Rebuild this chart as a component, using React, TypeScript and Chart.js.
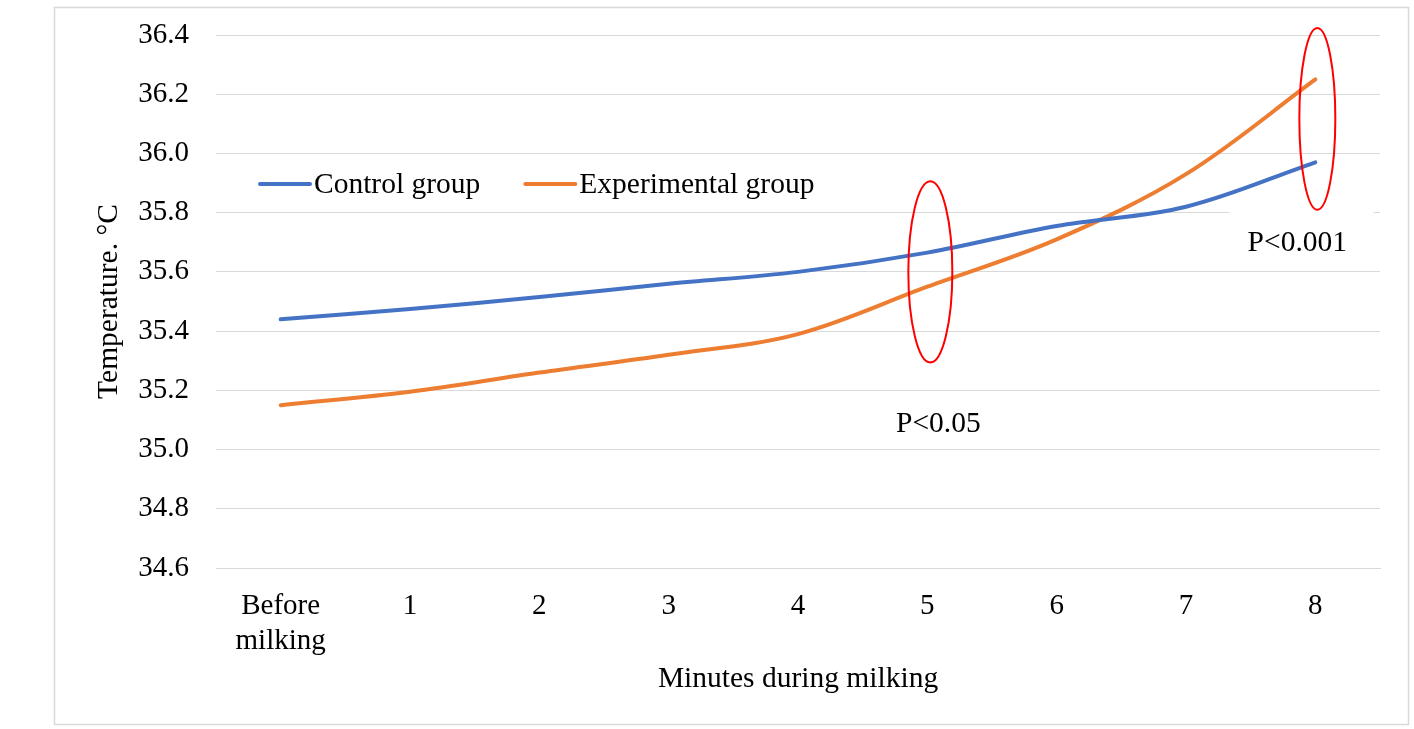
import React, { useEffect, useRef } from "react";
import { Chart, registerables } from "chart.js";

Chart.register(...registerables);

const categories: (string | string[])[] = [["Before", "milking"], "1", "2", "3", "4", "5", "6", "7", "8"];
const controlGroup = [35.44, 35.475, 35.515, 35.56, 35.6, 35.665, 35.755, 35.82, 35.97];
const experimentalGroup = [35.15, 35.195, 35.26, 35.32, 35.39, 35.55, 35.71, 35.93, 36.25];
const yTicks = { min: 34.6, max: 36.4, step: 0.2 };
const seriesNames = ["Control group", "Experimental group"];
const seriesColors = ["#4472C4", "#ED7D31"];
const significance = [
  { index: 5, yCenter: 35.6, yHalf: 0.306, label: "P<0.05", labelValue: 35.086, labelDx: 11, ellipseDx: 3, rx: 22 },
  { index: 8, yCenter: 36.117, yHalf: 0.307, label: "P<0.001", labelValue: 35.698, labelDx: -18, ellipseDx: 2, rx: 18 },
];

const FONT = "'Liberation Serif', 'Times New Roman', serif";

const overlayPlugin = {
  id: "overlay",
  beforeDraw(chart: any) {
    const ctx = chart.ctx;
    ctx.save();
    ctx.fillStyle = "#ffffff";
    ctx.fillRect(0, 0, chart.width, chart.height);
    ctx.strokeStyle = "#d9d9d9";
    ctx.lineWidth = 1.5;
    ctx.strokeRect(54.5, 7.5, 1354, 717);
    ctx.restore();
  },
  beforeDatasetsDraw(chart: any) {
    const ctx = chart.ctx;
    const x = chart.scales.x;
    const y = chart.scales.y;
    const s = significance[1];
    const cx = x.getPixelForValue(s.index) + s.labelDx;
    const cy = y.getPixelForValue(s.labelValue);
    ctx.save();
    ctx.fillStyle = "#ffffff";
    ctx.fillRect(cx - 68, cy - 31, 144, 52);
    ctx.restore();
  },
  afterDatasetsDraw(chart: any) {
    const ctx = chart.ctx;
    const x = chart.scales.x;
    const y = chart.scales.y;
    const area = chart.chartArea;
    ctx.save();
    const ly = y.getPixelForValue(35.897);
    ctx.font = `29.5px ${FONT}`;
    ctx.textBaseline = "middle";
    ctx.textAlign = "left";
    ctx.lineCap = "round";
    let lx = area.left + 44;
    seriesNames.forEach((name, i) => {
      ctx.strokeStyle = seriesColors[i];
      ctx.lineWidth = 4;
      ctx.beginPath();
      ctx.moveTo(lx, ly);
      ctx.lineTo(lx + 50, ly);
      ctx.stroke();
      ctx.fillStyle = "#000000";
      ctx.fillText(name, lx + 54, ly + 1);
      lx += 54 + ctx.measureText(name).width + 45;
    });
    significance.forEach((s) => {
      const cx = x.getPixelForValue(s.index) + s.ellipseDx;
      const cy = y.getPixelForValue(s.yCenter);
      const ry = Math.abs(y.getPixelForValue(s.yCenter + s.yHalf) - cy);
      ctx.strokeStyle = "#ff0000";
      ctx.lineWidth = 2;
      ctx.beginPath();
      ctx.ellipse(cx, cy, s.rx, ry, 0, 0, Math.PI * 2);
      ctx.stroke();
      ctx.fillStyle = "#000000";
      ctx.textAlign = "center";
      ctx.fillText(s.label, x.getPixelForValue(s.index) + s.labelDx, y.getPixelForValue(s.labelValue));
    });
    ctx.restore();
  },
};

export default function App() {
  const ref = useRef<HTMLCanvasElement>(null);
  useEffect(() => {
    if (!ref.current) return;
    const chart = new Chart(ref.current, {
      type: "line",
      data: {
        labels: categories as any,
        datasets: [
          {
            label: seriesNames[0],
            data: controlGroup,
            borderColor: seriesColors[0],
            backgroundColor: seriesColors[0],
            borderWidth: 4,
            pointRadius: 0,
            tension: 0.35,
            borderCapStyle: "round",
          },
          {
            label: seriesNames[1],
            data: experimentalGroup,
            borderColor: seriesColors[1],
            backgroundColor: seriesColors[1],
            borderWidth: 4,
            pointRadius: 0,
            tension: 0.35,
            borderCapStyle: "round",
          },
        ],
      },
      options: {
        animation: false,
        responsive: false,
        maintainAspectRatio: false,
        layout: { padding: { left: 0, right: 34, top: 35, bottom: 0 } },
        plugins: {
          legend: { display: false },
          tooltip: { enabled: false },
        },
        scales: {
          x: {
            offset: true,
            grid: { display: false, drawTicks: false },
            border: { display: true, color: "#d9d9d9", width: 1 },
            ticks: { color: "#000000", font: { family: FONT, size: 29 }, padding: 21, maxRotation: 0, autoSkip: false },
            title: {
              display: true,
              text: "Minutes during milking",
              color: "#000000",
              font: { family: FONT, size: 29.5 },
              padding: { top: 0, bottom: 32 },
            },
            afterFit: (scale: any) => {
              scale.height = 161;
              scale.paddingLeft = 0;
              scale.paddingRight = 0;
            },
          },
          y: {
            min: yTicks.min,
            max: yTicks.max,
            grid: { color: "#d9d9d9", lineWidth: 1, drawTicks: false },
            border: { display: false },
            ticks: {
              stepSize: yTicks.step,
              color: "#000000",
              font: { family: FONT, size: 29 },
              padding: 27,
              callback: (v: any) => Number(v).toFixed(1),
            },
            title: {
              display: true,
              text: "Temperature. °C",
              color: "#000000",
              font: { family: FONT, size: 29.5 },
              padding: { top: 92, bottom: 0 },
            },
            afterFit: (scale: any) => {
              scale.width = 216;
              scale.paddingTop = 0;
              scale.paddingBottom = 0;
            },
          },
        },
      },
      plugins: [overlayPlugin],
    });
    return () => chart.destroy();
  }, []);
  return (
    <div style={{ position: "absolute", left: 0, top: 0, width: 1414, height: 729 }}>
      <canvas ref={ref} width={1414} height={729} style={{ width: 1414, height: 729, display: "block" }} />
    </div>
  );
}
